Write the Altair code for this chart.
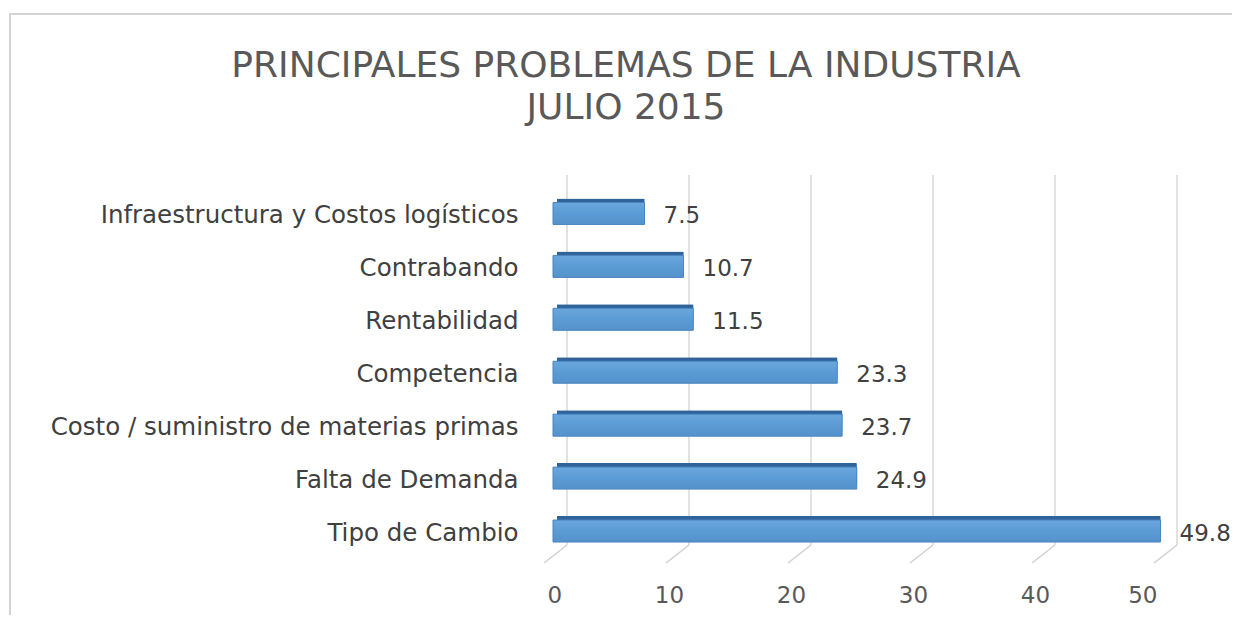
import altair as alt
import pandas as pd

categories = [
    "Infraestructura y Costos logísticos",
    "Contrabando",
    "Rentabilidad ",
    "Competencia",
    "Costo / suministro de materias primas",
    "Falta de Demanda",
    "Tipo de Cambio",
]
values = [7.5, 10.7, 11.5, 23.3, 23.7, 24.9, 49.8]
ticks = [0, 10, 20, 30, 40, 50]
title_lines = ["PRINCIPALES PROBLEMAS DE LA INDUSTRIA", "JULIO 2015"]

df = pd.DataFrame({"cat": categories, "val": values})
grid = pd.DataFrame({"g": ticks})
one = pd.DataFrame({"k": [0]})

FONT = "DejaVu Sans"
W, H = 610, 370.5

xs = alt.Scale(domain=[0, 50], nice=False, zero=True)
ys = alt.Scale(domain=categories, paddingInner=0.58, paddingOuter=0.29)

border = alt.Chart(one).mark_rect(
    fillOpacity=0, stroke="#d4d4d4", strokeWidth=2, clip=False
).encode(
    x=alt.value(-543), x2=alt.value(700), y=alt.value(-173), y2=alt.value(450)
)

grid_v = alt.Chart(grid).mark_rule(
    color="#d9d9d9", strokeWidth=1.5, xOffset=14, x2Offset=14
).encode(
    x=alt.X("g:Q", scale=xs),
    y=alt.value(-12),
    y2=alt.value(358),
)

grid_d = alt.Chart(grid).mark_rule(
    color="#d0d0d0", strokeWidth=1.5, xOffset=14, x2Offset=-9
).encode(
    x=alt.X("g:Q", scale=xs),
    x2="g:Q",
    y=alt.value(358),
    y2=alt.value(376),
)

back = alt.Chart(df).mark_bar(
    color="#2F6399", height=22, xOffset=7, x2Offset=4, yOffset=-4, cornerRadius=1
).encode(
    x=alt.X("val:Q", scale=xs),
    x2=alt.value(0),
    y=alt.Y("cat:N", scale=ys),
)

front = alt.Chart(df).mark_bar(
    height=22, stroke="#4A85C0", strokeWidth=1,
    color=alt.Gradient(
        gradient="linear",
        stops=[alt.GradientStop(color="#6BA7DD", offset=0),
               alt.GradientStop(color="#5B9BD5", offset=0.5),
               alt.GradientStop(color="#5592CB", offset=1)],
        x1=0, x2=0, y1=0, y2=1,
    ),
).encode(
    x=alt.X(
        "val:Q", scale=xs, title=None,
        axis=alt.Axis(
            values=ticks, domain=False, ticks=False, grid=False,
            labelFont=FONT, labelFontSize=23, labelColor="#595959",
            labelPadding=27, labelOffset=-6, labelBaseline="top",
        ),
    ),
    y=alt.Y(
        "cat:N", scale=ys, sort=categories, title=None,
        axis=alt.Axis(
            domain=False, ticks=False, grid=False,
            labelFont=FONT, labelFontSize=24.5, labelColor="#404040",
            labelPadding=35, labelOffset=3, labelLimit=0,
        ),
    ),
)

labels = alt.Chart(df).mark_text(
    align="left", baseline="middle", dx=19, dy=3,
    font=FONT, fontSize=23, color="#404040",
).encode(
    x=alt.X("val:Q", scale=xs),
    y=alt.Y("cat:N", scale=ys),
    text=alt.Text("val:Q", format=".1f"),
)

chart = alt.layer(border, grid_v, grid_d, back, front, labels).properties(
    width=W,
    height=H,
    autosize=alt.AutoSizeParams(type="none"),
    padding={"left": 545, "top": 179, "right": 69, "bottom": 57},
    title=alt.TitleParams(
        text=title_lines,
        font=FONT, fontSize=36, fontWeight="normal", color="#595959",
        anchor="middle", dx=-232, dy=114, lineHeight=42, offset=0,
    ),
).configure_view(stroke=None)

chart.save("out.html", embed_options={"renderer": "svg", "actions": False})
